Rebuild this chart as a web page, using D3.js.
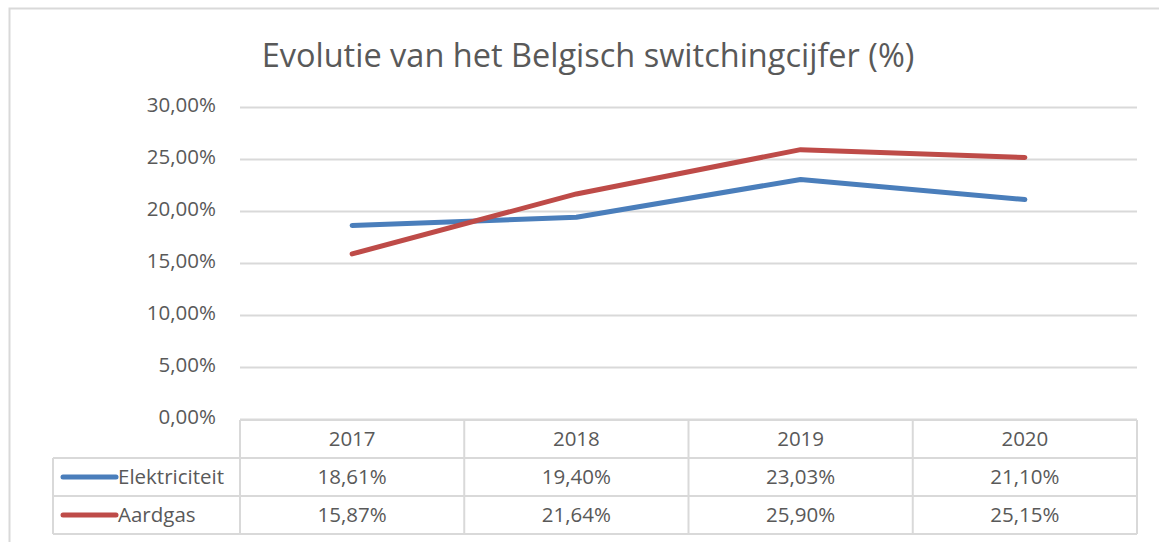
<!DOCTYPE html>
<html>
<head>
<meta charset="utf-8">
<script src="https://cdn.jsdelivr.net/npm/d3@7"></script>
<style>
  body { margin: 0; background: #fff; }
  text { font-family: "Open Sans", sans-serif; fill: #595959; }
</style>
</head>
<body>
<svg id="chart" width="1159" height="542"></svg>
<script>
// data
var years = ["2017", "2018", "2019", "2020"]
var elektriciteit = [18.61, 19.40, 23.03, 21.10]
var aardgas = [15.87, 21.64, 25.90, 25.15]
var yTicks = [0, 5, 10, 15, 20, 25, 30]

var series = [
  {name: "Elektriciteit", values: elektriciteit, color: "#4a7ebb"},
  {name: "Aardgas", values: aardgas, color: "#be4b48"}
]

var fmt = function(v){ return d3.format(".2f")(v).replace(".", ",") + "%" }
var fs = 20.5

var svg = d3.select("#chart")

// outer chart frame (runs off the right edge like the screenshot)
svg.append("rect")
  .attr("x", 9.5).attr("y", 8.5)
  .attr("width", 1200).attr("height", 600)
  .attr("fill", "none").attr("stroke", "#d9d9d9").attr("stroke-width", 2)

svg.append("text")
  .attr("x", 588).attr("y", 67)
  .attr("text-anchor", "middle")
  .attr("font-size", 32.5)
  .text("Evolutie van het Belgisch switchingcijfer (%)")

var plotLeft = 240, plotRight = 1137, plotTop = 107, plotBottom = 419

var x = d3.scaleBand().domain(years).range([plotLeft, plotRight])
var y = d3.scaleLinear().domain([0, 30]).range([plotBottom, plotTop])

// gridlines + y labels
var yAxis = d3.axisLeft(y).tickValues(yTicks).tickSize(-(plotRight - plotLeft)).tickPadding(24)
  .tickFormat(fmt)
var ga = svg.append("g").attr("transform", "translate(" + plotLeft + ",0)").call(yAxis)
ga.select(".domain").remove()
ga.selectAll("line").attr("stroke", "#d9d9d9").attr("stroke-width", 2)
ga.selectAll("text").attr("font-size", fs).attr("fill", "#595959").attr("dy", "0.2em")
  .style("font-family", "'Open Sans', sans-serif")

// lines
var line = d3.line()
  .x(function(d, i){ return x(years[i]) + x.bandwidth() / 2 })
  .y(function(d){ return y(d) })

svg.selectAll("path.series")
  .data(series)
  .enter().append("path")
  .attr("class", "series")
  .attr("d", function(d){ return line(d.values) })
  .attr("fill", "none")
  .attr("stroke", function(d){ return d.color })
  .attr("stroke-width", 5)
  .attr("stroke-linecap", "round")
  .attr("stroke-linejoin", "round")

// data table
var rowH = 38, tableTop = 420, legendLeft = 53
var grid = svg.append("g").attr("stroke", "#d9d9d9").attr("stroke-width", 2)

grid.append("line").attr("x1", plotLeft).attr("x2", plotRight).attr("y1", tableTop).attr("y2", tableTop)
for (var r = 1; r <= 3; r++) {
  grid.append("line").attr("x1", legendLeft).attr("x2", plotRight)
    .attr("y1", tableTop + r * rowH).attr("y2", tableTop + r * rowH)
}
grid.append("line").attr("x1", legendLeft).attr("x2", legendLeft)
  .attr("y1", tableTop + rowH).attr("y2", tableTop + 3 * rowH)
years.forEach(function(yr){
  grid.append("line").attr("x1", x(yr)).attr("x2", x(yr))
    .attr("y1", tableTop).attr("y2", tableTop + 3 * rowH)
})
grid.append("line").attr("x1", plotRight).attr("x2", plotRight)
  .attr("y1", tableTop).attr("y2", tableTop + 3 * rowH)

svg.selectAll("text.year")
  .data(years)
  .enter().append("text")
  .attr("class", "year")
  .attr("x", function(d){ return x(d) + x.bandwidth() / 2 })
  .attr("y", tableTop + rowH / 2 + 7)
  .attr("text-anchor", "middle")
  .attr("font-size", fs)
  .text(function(d){ return d })

series.forEach(function(s, si){
  var cy = tableTop + rowH * (si + 1) + rowH / 2
  svg.append("line")
    .attr("x1", 63).attr("x2", 116).attr("y1", cy).attr("y2", cy)
    .attr("stroke", s.color).attr("stroke-width", 5).attr("stroke-linecap", "round")
  svg.append("text")
    .attr("x", 118).attr("y", cy + 7)
    .attr("font-size", fs)
    .text(s.name)
  svg.selectAll("text.v" + si)
    .data(s.values)
    .enter().append("text")
    .attr("class", "v" + si)
    .attr("x", function(d, i){ return x(years[i]) + x.bandwidth() / 2 })
    .attr("y", cy + 7)
    .attr("text-anchor", "middle")
    .attr("font-size", fs)
    .text(function(d){ return fmt(d) })
})
</script>
</body>
</html>
